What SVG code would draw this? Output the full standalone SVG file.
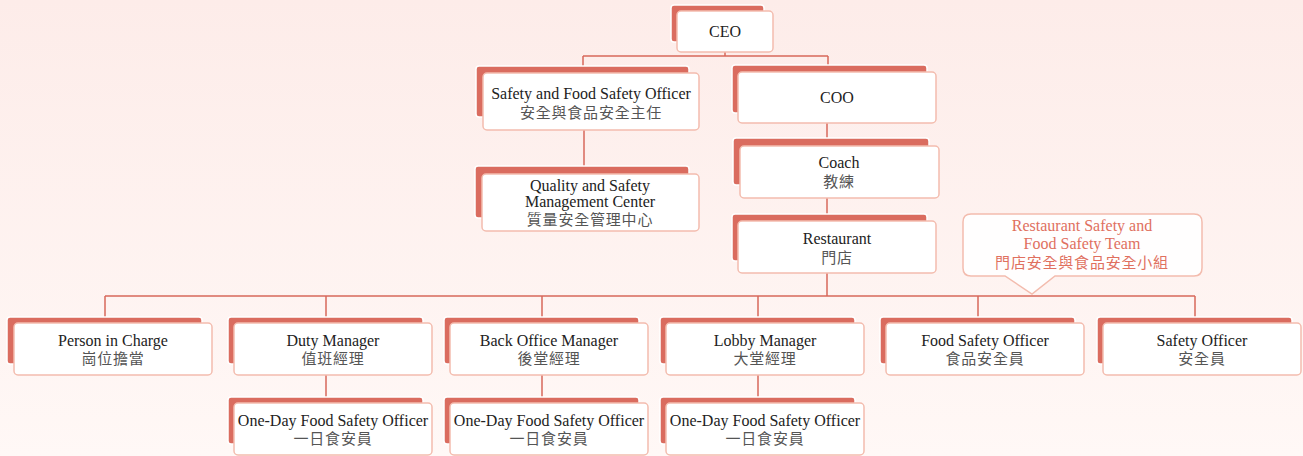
<svg xmlns="http://www.w3.org/2000/svg" width="1303" height="456" viewBox="0 0 1303 456">
<defs>
<linearGradient id="bg" x1="0" y1="0" x2="0" y2="1">
<stop offset="0" stop-color="#fdece9"/>
<stop offset="1" stop-color="#fff8f6"/>
</linearGradient>
<style>
.back{fill:#da6c5f;stroke:#ffffff;stroke-width:1.5}
.box{fill:#ffffff;stroke:#f3bcae;stroke-width:1.5}
.en{font-family:"Liberation Serif","Times New Roman",serif;font-size:16px;fill:#222;text-anchor:middle}
.zh{font-family:"Noto Sans CJK TC","Noto Sans CJK SC",sans-serif;font-size:15px;fill:#555;text-anchor:middle;letter-spacing:0.8px}
.con{fill:none;stroke:#d7685b;stroke-width:1.5}
.callout{fill:#ffffff;fill-opacity:0.9;stroke:#f3bcae;stroke-width:1.5}
.ct{fill:#e0705f}
</style>
</defs>
<rect x="0" y="0" width="1303" height="456" fill="url(#bg)"/>

<g id="connectors">
<path class="con" d="M725,52 V56 M583,56 H828 M583,56 V66 M828,56 V65"/>
<path class="con" d="M584,130 V166"/>
<path class="con" d="M827,123 V138"/>
<path class="con" d="M827,198 V214"/>
<path class="con" d="M827,273 V296 M105,296 H1195 M105,296 V317 M326,296 V317 M542,296 V317 M758,296 V317 M978,296 V317 M1195,296 V317"/>
<path class="con" d="M326,375 V397 M542,375 V397 M758,375 V397"/>
</g>

<g id="ceo">
<rect class="back" x="671" y="5" width="93" height="37" rx="3"/>
<rect class="box" x="677" y="11" width="96" height="41" rx="4"/>
<text class="en" x="725" y="37">CEO</text>
</g>

<g id="safety-food-officer">
<rect class="back" x="476" y="66" width="213" height="51" rx="3"/>
<rect class="box" x="483" y="73" width="216" height="57" rx="4"/>
<text class="en" x="591" y="99">Safety and Food Safety Officer</text>
<text class="zh" x="591" y="118">安全與食品安全主任</text>
</g>

<g id="coo">
<rect class="back" x="732" y="65" width="195" height="48" rx="3"/>
<rect class="box" x="738" y="72" width="198" height="51" rx="4"/>
<text class="en" x="837" y="103">COO</text>
</g>

<g id="qsmc">
<rect class="back" x="475" y="166" width="214" height="52" rx="3"/>
<rect class="box" x="482" y="174" width="217" height="57" rx="4"/>
<text class="en" x="590" y="191">Quality and Safety</text>
<text class="en" x="590" y="207">Management Center</text>
<text class="zh" x="590" y="225">質量安全管理中心</text>
</g>

<g id="coach">
<rect class="back" x="733" y="138" width="196" height="47" rx="3"/>
<rect class="box" x="740" y="146" width="199" height="52" rx="4"/>
<text class="en" x="839" y="168">Coach</text>
<text class="zh" x="839" y="187">教練</text>
</g>

<g id="restaurant">
<rect class="back" x="732" y="214" width="195" height="47" rx="3"/>
<rect class="box" x="738" y="221" width="198" height="52" rx="4"/>
<text class="en" x="837" y="244">Restaurant</text>
<text class="zh" x="837" y="263">門店</text>
</g>

<g id="team-callout">
<path class="callout" d="M971,214 H1194 Q1202,214 1202,222 V268 Q1202,276 1194,276 H1055 L1032,294 L1005,276 H971 Q963,276 963,268 V222 Q963,214 971,214 Z"/>
<text class="en ct" x="1082" y="231">Restaurant Safety and</text>
<text class="en ct" x="1082" y="249">Food Safety Team</text>
<text class="zh ct" x="1082" y="268">門店安全與食品安全小組</text>
</g>

<g id="person-in-charge">
<rect class="back" x="7" y="317" width="195" height="47" rx="3"/>
<rect class="box" x="14" y="323" width="198" height="52" rx="4"/>
<text class="en" x="113" y="346">Person in Charge</text>
<text class="zh" x="113" y="364">崗位擔當</text>
</g>

<g id="duty-manager">
<rect class="back" x="228" y="317" width="195" height="47" rx="3"/>
<rect class="box" x="234" y="323" width="198" height="52" rx="4"/>
<text class="en" x="333" y="346">Duty Manager</text>
<text class="zh" x="333" y="364">值班經理</text>
</g>

<g id="back-office-manager">
<rect class="back" x="444" y="317" width="195" height="47" rx="3"/>
<rect class="box" x="450" y="323" width="198" height="52" rx="4"/>
<text class="en" x="549" y="346">Back Office Manager</text>
<text class="zh" x="549" y="364">後堂經理</text>
</g>

<g id="lobby-manager">
<rect class="back" x="660" y="317" width="195" height="47" rx="3"/>
<rect class="box" x="666" y="323" width="198" height="52" rx="4"/>
<text class="en" x="765" y="346">Lobby Manager</text>
<text class="zh" x="765" y="364">大堂經理</text>
</g>

<g id="food-safety-officer">
<rect class="back" x="880" y="317" width="195" height="47" rx="3"/>
<rect class="box" x="886" y="323" width="198" height="52" rx="4"/>
<text class="en" x="985" y="346">Food Safety Officer</text>
<text class="zh" x="985" y="364">食品安全員</text>
</g>

<g id="safety-officer">
<rect class="back" x="1097" y="317" width="195" height="47" rx="3"/>
<rect class="box" x="1103" y="323" width="198" height="52" rx="4"/>
<text class="en" x="1202" y="346">Safety Officer</text>
<text class="zh" x="1202" y="364">安全員</text>
</g>

<g id="oneday-duty">
<rect class="back" x="228" y="397" width="195" height="47" rx="3"/>
<rect class="box" x="234" y="403" width="198" height="52" rx="4"/>
<text class="en" x="333" y="426">One-Day Food Safety Officer</text>
<text class="zh" x="333" y="444">一日食安員</text>
</g>

<g id="oneday-backoffice">
<rect class="back" x="444" y="397" width="195" height="47" rx="3"/>
<rect class="box" x="450" y="403" width="198" height="52" rx="4"/>
<text class="en" x="549" y="426">One-Day Food Safety Officer</text>
<text class="zh" x="549" y="444">一日食安員</text>
</g>

<g id="oneday-lobby">
<rect class="back" x="660" y="397" width="195" height="47" rx="3"/>
<rect class="box" x="666" y="403" width="198" height="52" rx="4"/>
<text class="en" x="765" y="426">One-Day Food Safety Officer</text>
<text class="zh" x="765" y="444">一日食安員</text>
</g>
</svg>
